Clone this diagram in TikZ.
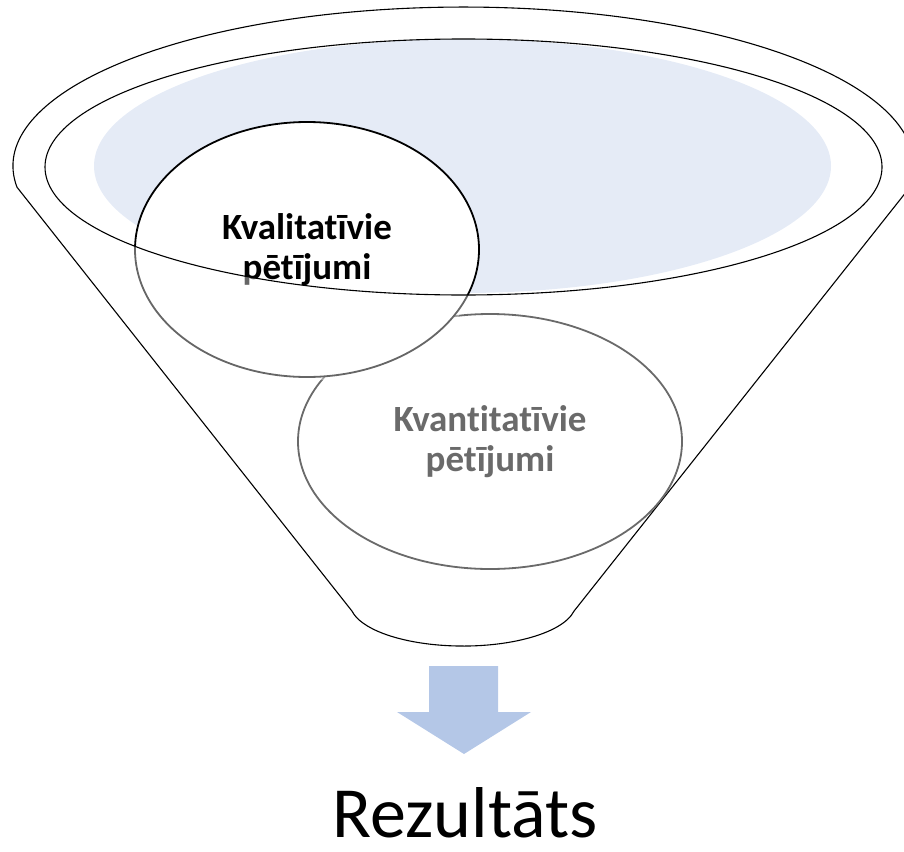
\documentclass[tikz,border=0pt]{standalone}
\usepackage{fontspec}
\setmainfont{Carlito}[Ligatures=NoCommon]
\usetikzlibrary{shapes.geometric}
\definecolor{lakeblue}{HTML}{E5EBF6}
\definecolor{arrowblue}{HTML}{B4C7E7}
\definecolor{rimgray}{HTML}{6A6A6A}
\begin{document}
\begin{tikzpicture}[x=1pt,y=1pt,
  funnelline/.style={draw=black, line width=1.1pt, line join=round},
  bubble/.style={ellipse, draw=rimgray, fill=white, line width=1.8pt, align=center,
    inner sep=0pt, font=\fontsize{37}{40}\selectfont\bfseries},
  outcome/.style={font=\fontsize{72}{84}\selectfont, inner sep=0pt}]
\useasboundingbox (0,0) rectangle (904,-851);

% funnel body: upper rim, straight sides, rounded spout
\draw[funnelline] (17,-187.2)
  arc[start angle=187.65, end angle=-7.65, x radius=450.5, y radius=159]
  -- (574,-611.1)
  arc[start angle=-10.8, end angle=-169.2, x radius=113, y radius=43]
  -- cycle;

% liquid surface inside the rim
\fill[lakeblue] (462.5,-166) ellipse [x radius=368.5, y radius=127];

% the two study types
\node[bubble, text=rimgray, minimum width=384, minimum height=255] (quant)
  at (490,-441.5) {Kvantitatīvie\\pētījumi};
\node[bubble, draw=black, text=black, minimum width=344, minimum height=255] (qual)
  at (307,-249.5) {Kvalitatīvie\\pētījumi};

% soften the part of the upper bubble that hangs below the rim
\begin{scope}
  \clip (qual.center) ellipse [x radius=176, y radius=131];
  \fill[white, opacity=0.4, even odd rule] (0,0) rectangle (904,-851)
    (463.5,-167) ellipse [x radius=418.5, y radius=128];
\end{scope}

% inner rim line
\draw[funnelline] (463.5,-167) ellipse [x radius=418.5, y radius=128];

% outflow arrow
\fill[arrowblue] (429,-666) -- (498,-666) -- (498,-712) -- (531,-712)
  -- (464,-754) -- (397,-712) -- (429,-712) -- cycle;

\node[outcome, anchor=base] (result) at (465,-837) {Rezultāts};
\end{tikzpicture}
\end{document}
